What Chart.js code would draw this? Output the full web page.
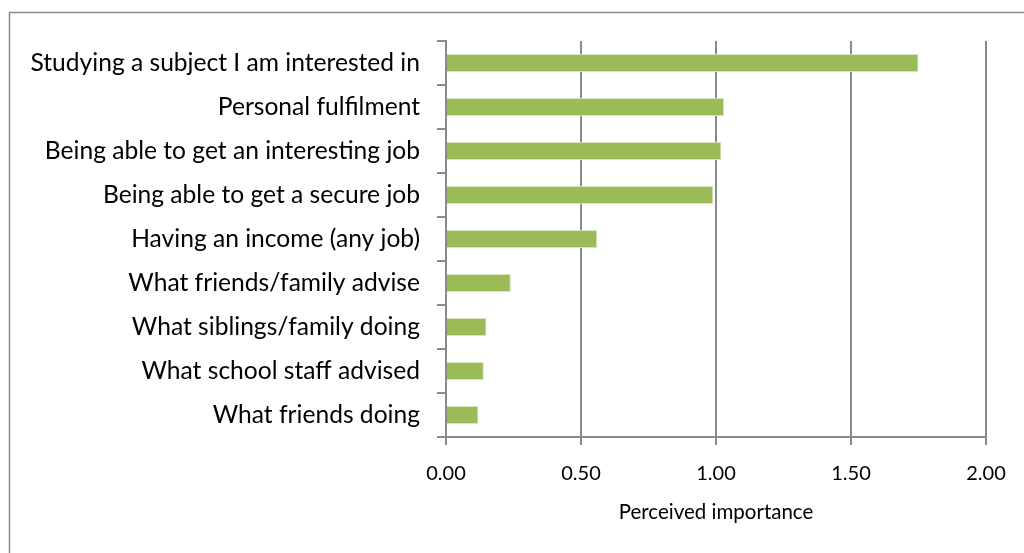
<!DOCTYPE html>
<html>
<head>
<meta charset="utf-8">
<script src="https://cdn.jsdelivr.net/npm/chart.js@4/dist/chart.umd.min.js"></script>
<style>
html,body{margin:0;padding:0;background:#fff;overflow:hidden;}
#wrap{position:absolute;left:0;top:0;width:1024px;height:553px;}
</style>
</head>
<body>
<div id="wrap"><canvas id="c" width="1024" height="553"></canvas></div>
<script>
const categories = [
  "Studying a subject I am interested in",
  "Personal fulfilment",
  "Being able to get an interesting job",
  "Being able to get a secure job",
  "Having an income (any job)",
  "What friends/family advise",
  "What siblings/family doing",
  "What school staff advised",
  "What friends doing"
];
const importance = [1.75, 1.03, 1.02, 0.99, 0.56, 0.24, 0.15, 0.14, 0.12];
const xTickValues = [0, 0.5, 1.0, 1.5, 2.0];
const axisTitle = "Perceived importance";

const FONT = "Lato";
const GRID = "#8a8a8a";

const framePlugin = {
  id: 'frame',
  beforeDraw(chart) {
    const ctx = chart.ctx;
    ctx.save();
    ctx.strokeStyle = GRID;
    ctx.lineWidth = 1.5;
    ctx.beginPath();
    ctx.moveTo(9.5, 600);
    ctx.lineTo(9.5, 12.5);
    ctx.lineTo(1100, 12.5);
    ctx.stroke();
    ctx.restore();
  }
};

new Chart(document.getElementById('c'), {
  type: 'bar',
  data: {
    labels: categories,
    datasets: [{
      data: importance,
      backgroundColor: '#9bbb59',
      borderColor: '#d6e4bc',
      borderWidth: 1,
      barPercentage: 0.41,
      categoryPercentage: 1.0
    }]
  },
  options: {
    indexAxis: 'y',
    responsive: false,
    animation: false,
    devicePixelRatio: 1,
    layout: { padding: { left: 0, top: 41, right: 38, bottom: 0 } },
    plugins: { legend: { display: false }, tooltip: { enabled: false } },
    scales: {
      x: {
        min: 0, max: 2,
        afterBuildTicks(scale) { scale.ticks = xTickValues.map(v => ({ value: v })); },
        afterFit(scale) { scale.height = 553 - 437; },
        grid: { color: GRID, lineWidth: 2, tickLength: 8, drawTicks: true },
        border: { display: true, color: GRID, width: 2 },
        ticks: {
          color: '#000',
          font: { family: FONT, size: 20 },
          padding: 17,
          callback: v => Number(v).toFixed(2)
        },
        title: {
          display: true, text: axisTitle, color: '#000',
          font: { family: FONT, size: 20.5 },
          padding: { top: 0, bottom: 28 }
        }
      },
      y: {
        afterFit(scale) { scale.width = 446; },
        grid: { display: true, drawOnChartArea: false, drawTicks: true, tickLength: 9, color: GRID, lineWidth: 2, offset: true },
        border: { display: true, color: GRID, width: 2 },
        ticks: { color: '#000', font: { family: FONT, size: 24.6 }, padding: 17 }
      }
    }
  },
  plugins: [framePlugin]
});
</script>
</body>
</html>
